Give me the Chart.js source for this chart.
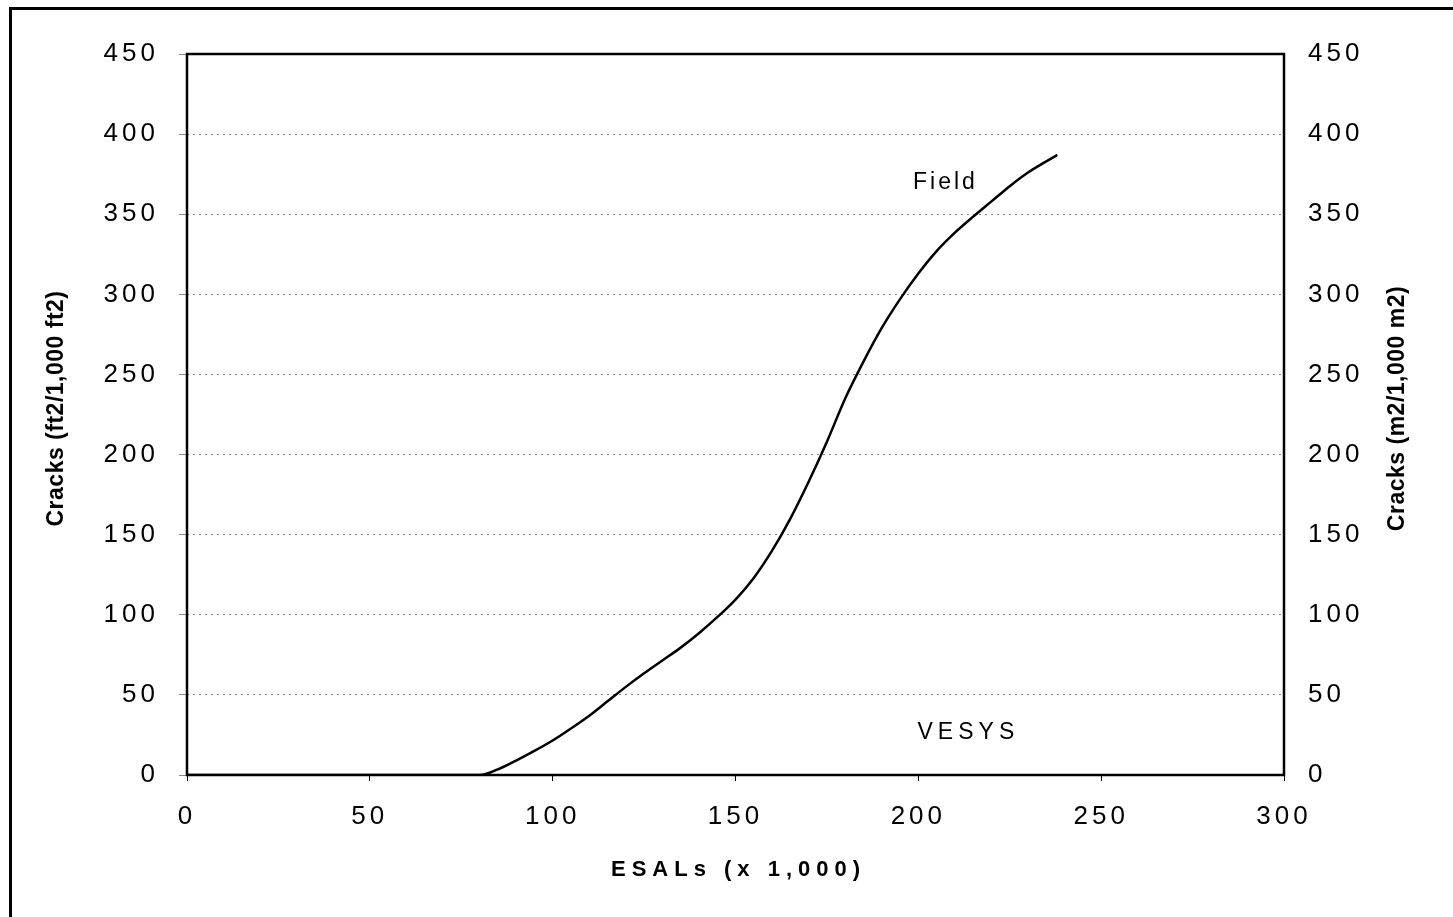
<!DOCTYPE html>
<html>
<head>
<meta charset="utf-8">
<script src="https://cdn.jsdelivr.net/npm/chart.js@4.4.1/dist/chart.umd.min.js"></script>
<style>
  html, body { margin: 0; padding: 0; background: #fff; overflow: hidden; width: 1453px; height: 917px; }
  #wrap { position: relative; width: 1453px; height: 917px; }
  #frame { position: absolute; left: 9px; top: 7px; width: 1500px; height: 1000px; border: 3px solid #000; box-sizing: border-box; pointer-events: none; }
  canvas { position: absolute; left: 0; top: 0; }
</style>
</head>
<body>
<div id="wrap">
  <canvas id="c" width="1453" height="917"></canvas>
  <div id="frame"></div>
</div>
<script>
// ---- Data ----
const esals  = [0, 40, 80, 85, 90, 95, 100, 105, 110, 115, 120, 125, 130, 135, 140, 145, 150, 155, 160, 165, 170, 175, 180, 185, 190, 195, 200, 205, 210, 215, 220, 225, 230, 235, 238];
const cracks = [0, 0, 0, 3.5, 9, 15, 21.5, 29, 37, 46, 55, 63.5, 71.5, 79.5, 88.5, 98.5, 109.5, 123, 140, 160, 183, 208, 235, 258, 279, 297, 313, 327, 338.5, 348.5, 358, 367.5, 376, 383, 387];
const xTicks = [0, 50, 100, 150, 200, 250, 300];
const yTicks = [0, 50, 100, 150, 200, 250, 300, 350, 400, 450];
const labelTexts = ['Field', 'VESYS'];
const labelAnchors = [[207, 369.5], [213, 26.2]];
const xTitle = 'ESALs (x 1,000)';
const yLeftTitle = 'Cracks (ft2/1,000 ft2)';
const yRightTitle = 'Cracks (m2/1,000 m2)';

const points = esals.map((x, i) => ({ x: x, y: cracks[i] }));
const FONT = "Arial, 'Liberation Sans', sans-serif";

const spacingPlugin = {
  id: 'spacing',
  beforeLayout(chart) { chart.ctx.letterSpacing = '4px'; },
  beforeDraw(chart) { chart.ctx.letterSpacing = '4px'; }
};

const decorPlugin = {
  id: 'decor',
  afterDraw(chart) {
    const ctx = chart.ctx;
    const a = chart.chartArea;
    const xs = chart.scales.x, ys = chart.scales.y;
    ctx.save();
    // plot frame
    ctx.strokeStyle = '#000';
    ctx.lineWidth = 2.5;
    ctx.setLineDash([]);
    ctx.strokeRect(a.left, a.top, a.right - a.left, a.bottom - a.top);
    // annotations
    ctx.fillStyle = '#000';
    ctx.textAlign = 'center';
    ctx.textBaseline = 'middle';
    ctx.font = '23px ' + FONT;
    ctx.letterSpacing = '3px';
    ctx.fillText(labelTexts[0], xs.getPixelForValue(labelAnchors[0][0]) + 1.5, ys.getPixelForValue(labelAnchors[0][1]));
    ctx.letterSpacing = '5px';
    ctx.fillText(labelTexts[1], xs.getPixelForValue(labelAnchors[1][0]) + 2.5, ys.getPixelForValue(labelAnchors[1][1]));
    // x axis title
    ctx.font = 'bold 22px ' + FONT;
    ctx.letterSpacing = '6px';
    ctx.fillText(xTitle, (a.left + a.right) / 2 + 3, a.bottom + 95);
    // vertical axis titles (both read bottom-to-top)
    ctx.font = 'bold 23px ' + FONT;
    ctx.letterSpacing = '0.5px';
    const cy = (a.top + a.bottom) / 2 - 6;
    ctx.save();
    ctx.translate(a.left - 130, cy);
    ctx.rotate(-Math.PI / 2);
    ctx.fillText(yLeftTitle, 0, 0);
    ctx.restore();
    ctx.save();
    ctx.translate(a.right + 114, cy);
    ctx.rotate(-Math.PI / 2);
    ctx.fillText(yRightTitle, 0, 0);
    ctx.restore();
    ctx.restore();
  }
};

new Chart(document.getElementById('c'), {
  type: 'scatter',
  data: {
    datasets: [{
      label: 'Field',
      data: points,
      showLine: true,
      borderColor: '#000',
      borderWidth: 2.5,
      pointRadius: 0,
      cubicInterpolationMode: 'monotone',
      fill: false
    }]
  },
  options: {
    responsive: false,
    animation: false,
    devicePixelRatio: 1,
    layout: { padding: { top: 54, left: 0, right: 0, bottom: 0 } },
    plugins: { legend: { display: false }, tooltip: { enabled: false } },
    scales: {
      x: {
        type: 'linear',
        position: 'bottom',
        min: 0, max: 300,
        afterBuildTicks(s) { s.ticks = xTicks.map(v => ({ value: v })); },
        afterFit(s) { s.height = 142; },
        border: { display: false },
        grid: { drawOnChartArea: false, drawTicks: true, tickLength: 6, color: '#000', lineWidth: 1 },
        ticks: { color: '#000', font: { family: FONT, size: 26 }, padding: 20, maxRotation: 0 },
        title: { display: false }
      },
      y: {
        type: 'linear',
        position: 'left',
        min: 0, max: 450,
        afterBuildTicks(s) { s.ticks = yTicks.map(v => ({ value: v })); },
        afterFit(s) { s.width = 187; },
        border: { display: false, dash: [2, 4] },
        grid: {
          color: '#888',
          lineWidth: 1,
          tickLength: 8,
          drawTicks: true
        },
        ticks: { color: '#000', font: { family: FONT, size: 26 }, padding: 20 }
      },
      y2: {
        type: 'linear',
        position: 'right',
        min: 0, max: 450,
        afterBuildTicks(s) { s.ticks = yTicks.map(v => ({ value: v })); },
        afterFit(s) { s.width = 169; },
        border: { display: false },
        grid: { display: true, drawOnChartArea: false, drawTicks: false },
        ticks: { color: '#000', font: { family: FONT, size: 26 }, padding: 24 }
      }
    }
  },
  plugins: [spacingPlugin, decorPlugin]
});
</script>
</body>
</html>
